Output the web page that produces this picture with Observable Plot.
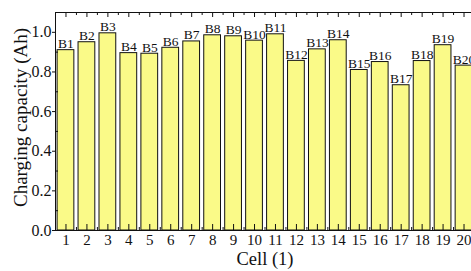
<!DOCTYPE html>
<html>
<head>
<meta charset="utf-8">
<script src="https://cdn.jsdelivr.net/npm/d3@7"></script>
<script src="https://cdn.jsdelivr.net/npm/@observablehq/plot@0.6"></script>
<style>
  html, body { margin: 0; padding: 0; background: #fff; overflow: hidden; }
  #chart { width: 471px; height: 271px; overflow: hidden; }
  #chart svg { font-family: "Liberation Serif", serif; max-width: none !important; width: 480px !important; height: 271px !important; display: block; }
</style>
</head>
<body>
<div id="chart"></div>
<script>
const cells = [1,2,3,4,5,6,7,8,9,10,11,12,13,14,15,16,17,18,19,20];
const labels = ["B1","B2","B3","B4","B5","B6","B7","B8","B9","B10","B11","B12","B13","B14","B15","B16","B17","B18","B19","B20"];
const capacity = [0.910,0.950,0.995,0.895,0.892,0.922,0.954,0.985,0.980,0.958,0.990,0.856,0.914,0.960,0.810,0.850,0.733,0.855,0.935,0.832];
const yTicks = [0.0,0.2,0.4,0.6,0.8,1.0];
const yMinorTicks = [0.1,0.3,0.5,0.7,0.9];
const xTicks = cells;
const xMinorTicks = [1.5,2.5,3.5,4.5,5.5,6.5,7.5,8.5,9.5,10.5,11.5,12.5,13.5,14.5,15.5,16.5,17.5,18.5,19.5];

const data = cells.map((c, i) => ({cell: c, label: labels[i], value: capacity[i]}));

const W = 480, H = 271, mTop = 12, mBottom = 41, mLeft = 55, mRight = 6;
const plotH = H - mTop - mBottom;
const plotW = W - mLeft - mRight;

const chart = Plot.plot({
  width: W,
  height: H,
  marginTop: mTop,
  marginBottom: mBottom,
  marginLeft: mLeft,
  marginRight: mRight,
  style: {fontFamily: "Liberation Serif, serif", background: "transparent", overflow: "visible", maxWidth: "none"},
  x: {type: "linear", domain: [0.5, 20.5], axis: null},
  y: {domain: [0, 1.1], axis: null},
  marks: [
    Plot.rectY(data, {x1: d => d.cell - 0.4, x2: d => d.cell + 0.4, y1: 0, y2: "value", fill: "#fafa88", stroke: "#111", strokeWidth: 1}),
    Plot.text(data, {x: "cell", y: "value", text: "label", lineAnchor: "bottom", dy: -2, fontSize: 13.5, fill: "#111"}),
    Plot.axisX({anchor: "bottom", ticks: xTicks, tickSize: 0, tickPadding: 4, tickFormat: d => String(d), fontSize: 15, label: null, color: "#111"}),
    Plot.axisY({anchor: "left", ticks: yTicks, tickSize: 3, tickPadding: 1, tickFormat: d => d.toFixed(1), fontSize: 16, label: null, color: "#111"}),
    Plot.ruleX(xTicks, {x: d => d, insetBottom: plotH - 5, stroke: "#111"}),
    Plot.ruleX(xMinorTicks, {x: d => d, insetBottom: plotH - 3, stroke: "#111"}),
    Plot.ruleX(xTicks, {x: d => d, insetTop: plotH - 6, stroke: "#111"}),
    Plot.ruleX(xMinorTicks, {x: d => d, insetTop: plotH - 3, stroke: "#111"}),
    Plot.ruleY(yMinorTicks, {y: d => d, insetRight: plotW - 3, stroke: "#111"}),
    Plot.frame({stroke: "#111"}),
    Plot.text(["Charging capacity (Ah)"], {frameAnchor: "left", dx: -35, dy: -4, rotate: -90, fontSize: 19, textAnchor: "middle", fill: "#111"}),
    Plot.text(["Cell (1)"], {frameAnchor: "bottom", dy: 34, fontSize: 18.5, textAnchor: "middle", fill: "#111"})
  ]
});
document.getElementById("chart").appendChild(chart);
</script>
</body>
</html>
